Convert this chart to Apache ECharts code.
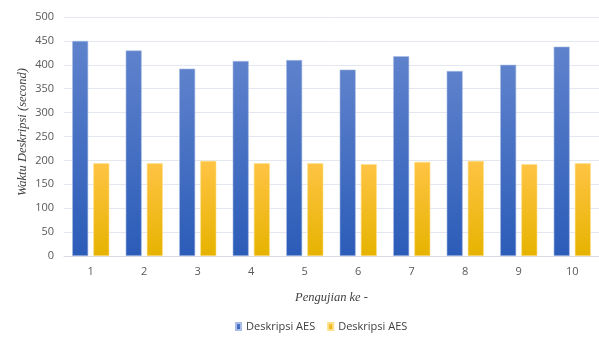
<!DOCTYPE html>
<html><head><meta charset="utf-8">
<script src="https://cdn.jsdelivr.net/npm/echarts@6/dist/echarts.min.js"></script>
<style>html,body{margin:0;padding:0;background:#fff}#c{width:599px;height:338px}</style>
</head><body><div id="c"></div>
<script>
const categories = ['1','2','3','4','5','6','7','8','9','10'];
const seriesNames = ['Deskripsi AES', 'Deskripsi AES'];
const blueValues = [450, 430, 392, 408, 410, 390, 418, 387, 400, 438];
const yellowValues = [194, 194, 199, 194, 194, 192, 197, 199, 192, 194];
const yTitle = 'Waktu Deskripsi (second)';

const chart = echarts.init(document.getElementById('c'), null, {renderer: 'canvas'});
const grad = (a, b) => new echarts.graphic.LinearGradient(0, 0, 0, 1, [{offset: 0, color: a}, {offset: 1, color: b}]);
chart.setOption({
  animation: false,
  backgroundColor: '#fff',
  grid: {left: 64, right: -11, top: 17, bottom: 82, containLabel: false},
  legend: {
    bottom: 1, left: 230, itemWidth: 5, itemHeight: 7, itemGap: 12,
    textStyle: {fontFamily: 'Open Sans', fontSize: 11, color: '#404040'},
    data: [{name: 'a', icon: 'rect'}, {name: 'b', icon: 'rect'}],
    formatter: n => n === 'a' ? seriesNames[0] : seriesNames[1]
  },
  graphic: [{
    type: 'text', left: 16, top: 68, rotation: Math.PI / 2,
    style: {text: yTitle, font: 'italic 12.5px "Liberation Serif"', fill: '#404040'},
    silent: true
  }],
  xAxis: {
    type: 'category', data: categories,
    name: 'Pengujian ke -', nameLocation: 'middle', nameGap: 35,
    nameTextStyle: {fontFamily: 'Liberation Serif', fontStyle: 'italic', fontSize: 12.5, color: '#404040'},
    axisLine: {lineStyle: {color: '#d9dce3'}},
    axisTick: {show: false},
    axisLabel: {fontFamily: 'Open Sans', fontSize: 11, color: '#595959', margin: 10}
  },
  yAxis: {
    type: 'value', min: 0, max: 500, interval: 50,
    axisLine: {show: false}, axisTick: {show: false},
    axisLabel: {fontFamily: 'Open Sans', fontSize: 11, color: '#595959', margin: 10},
    splitLine: {lineStyle: {color: '#e3e7ef', width: 1}}
  },
  series: [
    {name: 'a', type: 'bar', data: blueValues, barWidth: 16, barGap: '32%',
     itemStyle: {color: grad('#5f82cc', '#2b5cb8'), borderColor: '#a9bde6', borderWidth: 0.6}},
    {name: 'b', type: 'bar', data: yellowValues, barWidth: 16,
     itemStyle: {color: grad('#ffc444', '#e6b300'), borderColor: '#ffe08a', borderWidth: 0.6}}
  ]
});
</script></body></html>
